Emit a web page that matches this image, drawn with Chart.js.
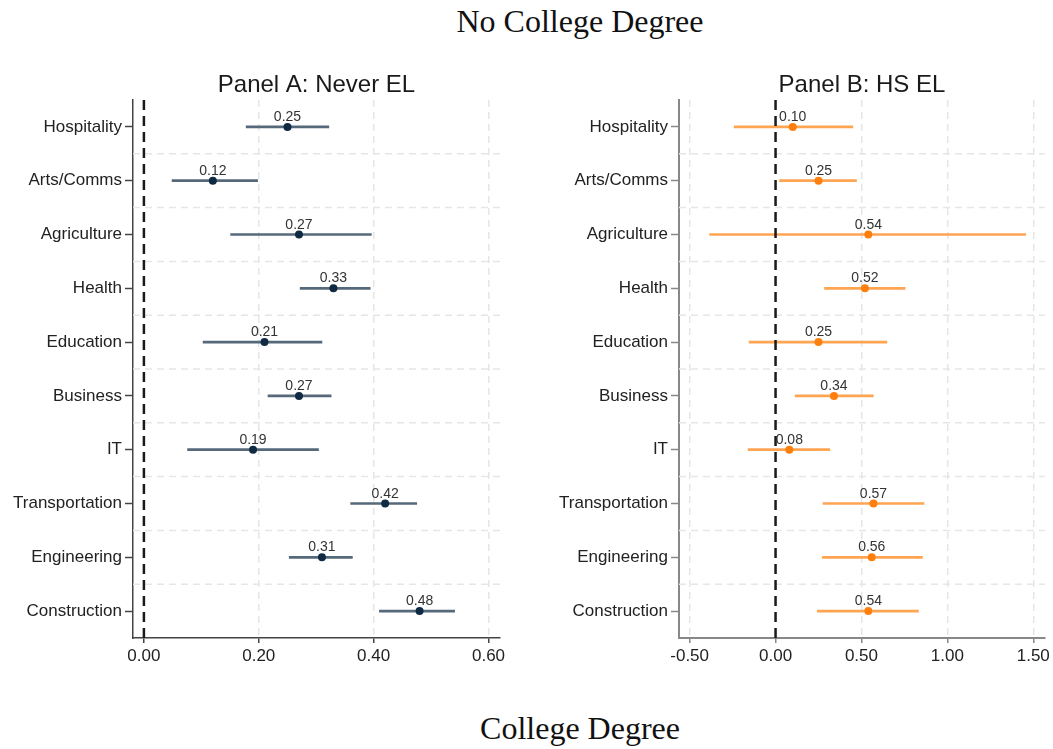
<!DOCTYPE html>
<html>
<head>
<meta charset="utf-8">
<script src="https://cdn.jsdelivr.net/npm/chart.js@4.4.0/dist/chart.umd.min.js"></script>
<style>
  html, body { margin: 0; padding: 0; background: #fff; }
  body { width: 1053px; height: 749px; position: relative; overflow: hidden; }
  canvas { position: absolute; top: 0; }
  #panelA { left: 0; }
  #panelB { left: 530px; }
  .caption {
    position: absolute; left: 280px; width: 600px; text-align: center;
    font-family: "Liberation Serif", "Times New Roman", serif;
    font-size: 32px; line-height: 32px; color: #111;
  }
  #top { top: 5px; }
  #bottom { top: 712px; }
</style>
</head>
<body>
<div class="caption" id="top">No College Degree</div>
<canvas id="panelA" width="526" height="700"></canvas>
<canvas id="panelB" width="523" height="700"></canvas>
<div class="caption" id="bottom">College Degree</div>

<script>
// Occupation categories, top to bottom
const categories = ['Hospitality', 'Arts/Comms', 'Agriculture', 'Health', 'Education',
                    'Business', 'IT', 'Transportation', 'Engineering', 'Construction'];

// Panel A: Never EL — point estimates and confidence bounds
const neverEstimate = [0.25, 0.12, 0.27, 0.33, 0.21, 0.27, 0.19, 0.42, 0.31, 0.48];
const neverLower    = [0.178, 0.049, 0.151, 0.272, 0.103, 0.216, 0.076, 0.360, 0.253, 0.410];
const neverUpper    = [0.322, 0.198, 0.396, 0.394, 0.310, 0.326, 0.304, 0.475, 0.363, 0.541];
const neverTicks    = [0, 0.2, 0.4, 0.6];

// Panel B: HS EL — point estimates and confidence bounds
const hsEstimate = [0.10, 0.25, 0.54, 0.52, 0.25, 0.34, 0.08, 0.57, 0.56, 0.54];
const hsLower    = [-0.241, 0.023, -0.384, 0.285, -0.154, 0.114, -0.160, 0.276, 0.272, 0.243];
const hsUpper    = [0.450, 0.471, 1.456, 0.754, 0.648, 0.569, 0.316, 0.864, 0.855, 0.832];
const hsTicks    = [-0.5, 0, 0.5, 1, 1.5];

const SANS = '"Liberation Sans", Arial, Helvetica, sans-serif';
const GRID = '#e6e6e6';

// Row separators, zero reference line, value labels and panel title
const panelDecor = {
  id: 'panelDecor',
  beforeDatasetsDraw(chart) {
    const { ctx, chartArea: a } = chart;
    const y = chart.scales.y;
    ctx.save();
    ctx.strokeStyle = GRID;
    ctx.lineWidth = 1.5;
    ctx.setLineDash([7, 5]);
    for (let i = 0; i < categories.length - 1; i++) {
      const py = (y.getPixelForValue(i) + y.getPixelForValue(i + 1)) / 2;
      ctx.beginPath();
      ctx.moveTo(a.left, py);
      ctx.lineTo(a.right, py);
      ctx.stroke();
    }
    ctx.restore();
  },
  afterDatasetsDraw(chart) {
    const { ctx, chartArea: a } = chart;
    const meta = chart.getDatasetMeta(1);
    const values = chart.data.datasets[1].data;
    ctx.save();
    ctx.font = '14px ' + SANS;
    ctx.fillStyle = '#333';
    ctx.textAlign = 'center';
    ctx.textBaseline = 'alphabetic';
    meta.data.forEach((pt, i) => {
      ctx.fillText(values[i].toFixed(2), pt.x, pt.y - 6);
    });
    const x0 = chart.scales.x.getPixelForValue(0);
    ctx.strokeStyle = '#1a1a1a';
    ctx.lineWidth = 2.5;
    ctx.setLineDash([10, 6]);
    ctx.beginPath();
    ctx.moveTo(x0, a.top);
    ctx.lineTo(x0, a.bottom);
    ctx.stroke();
    ctx.restore();
  },
  afterDraw(chart, args, opts) {
    const { ctx, chartArea: a } = chart;
    ctx.save();
    ctx.font = '24px ' + SANS;
    ctx.fillStyle = '#1a1a1a';
    ctx.textAlign = 'center';
    ctx.textBaseline = 'alphabetic';
    ctx.fillText(opts.title, (a.left + a.right) / 2, 92);
    ctx.restore();
  }
};

function makePanel(id, p) {
  const intervals = p.lower.map((lo, i) => [lo, p.upper[i]]);
  return new Chart(document.getElementById(id), {
    type: 'bar',
    data: {
      labels: categories,
      datasets: [
        {
          type: 'bar',
          indexAxis: 'y',
          data: intervals,
          backgroundColor: p.lineColor,
          borderWidth: 0,
          borderSkipped: false,
          barThickness: 2,
          grouped: false,
          order: 1
        },
        {
          type: 'line',
          indexAxis: 'y',
          data: p.estimate,
          showLine: false,
          pointRadius: 4,
          pointHoverRadius: 4,
          pointBackgroundColor: p.pointColor,
          pointBorderWidth: 0,
          order: 0
        }
      ]
    },
    options: {
      indexAxis: 'y',
      responsive: false,
      animation: false,
      events: [],
      layout: { padding: { top: 100, right: p.padRight, left: 0, bottom: 0 } },
      plugins: {
        legend: { display: false },
        tooltip: { enabled: false },
        panelDecor: { title: p.title }
      },
      scales: {
        x: {
          type: 'linear',
          position: 'bottom',
          min: p.min,
          max: p.max,
          afterBuildTicks: s => { s.ticks = p.ticks.map(v => ({ value: v })); },
          afterFit: s => { s.height = 62; },
          ticks: {
            callback: v => Number(v).toFixed(2),
            font: { size: 17, family: SANS },
            color: '#222',
            padding: 3,
            autoSkip: false,
            maxRotation: 0
          },
          grid: {
            color: c => (c.tick && c.tick.value === 0) ? 'rgba(0,0,0,0)' : GRID,
            lineWidth: 1.5,
            tickLength: 5,
            tickColor: p.axisColor,
            tickWidth: 1.5
          },
          border: { color: p.axisColor, width: p.axisWidth, dash: [7, 5] }
        },
        y: {
          type: 'category',
          position: 'left',
          offset: true,
          afterFit: s => { s.width = p.yWidth; },
          ticks: {
            font: { size: 17, family: SANS },
            color: '#222',
            padding: 3,
            autoSkip: false
          },
          grid: {
            offset: false,
            drawOnChartArea: false,
            tickLength: 8,
            tickColor: p.axisColor,
            tickWidth: 1.5
          },
          border: { color: p.axisColor, width: p.axisWidth }
        }
      }
    },
    plugins: [panelDecor]
  });
}

makePanel('panelA', {
  title: 'Panel A: Never EL',
  estimate: neverEstimate, lower: neverLower, upper: neverUpper, ticks: neverTicks,
  min: -0.019, max: 0.62,
  yWidth: 133, padRight: 26,
  lineColor: '#56697a', pointColor: '#102a43',
  axisColor: '#444', axisWidth: 1.5
});

makePanel('panelB', {
  title: 'Panel B: HS EL',
  estimate: hsEstimate, lower: hsLower, upper: hsUpper, ticks: hsTicks,
  min: -0.562, max: 1.568,
  yWidth: 149, padRight: 6,
  lineColor: '#ffa552', pointColor: '#ff7f0e',
  axisColor: '#888', axisWidth: 2
});
</script>
</body>
</html>
